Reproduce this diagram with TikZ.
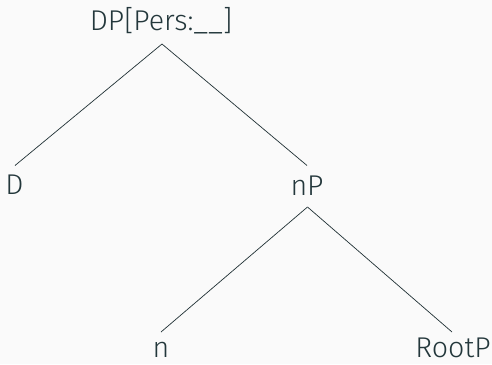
\documentclass[tikz,border=0pt]{standalone}
\usepackage{fontspec}
\setmainfont{Fira Sans}[UprightFont={* Light}]
\usetikzlibrary{calc}
\definecolor{ink}{HTML}{23373B}
\definecolor{paper}{HTML}{FAFAFA}
\begin{document}
\begin{tikzpicture}[x=1pt,y=-1pt,
  label/.style={anchor=base,inner sep=0pt,text=ink,font=\fontsize{28.6}{32}\selectfont},
  branch/.style={draw=ink!90!black,line width=0.7pt}]
\fill[paper] (0,0) rectangle (492,364);
\useasboundingbox (0,0) rectangle (492,364);
% labels of the tree
\node[label] (dp) at (161,30.5) {DP[Pers:\_\_]};
\node[label] (d) at (14.5,194.5) {D};
\node[label] (np) at (307,195) {nP};
\node[label] (n) at (161,357) {n};
\node[label] (rootp) at (453,357) {RootP};
% branches, from under the mother to above each daughter
\draw[branch] ($(dp.base)+(1,13.5)$) -- ($(d.base)+(0.5,-29)$);
\draw[branch] ($(dp.base)+(1,13.5)$) -- ($(np.base)+(0,-29.5)$);
\draw[branch] ($(np.base)+(0.5,12)$) -- ($(n.base)+(0,-25)$);
\draw[branch] ($(np.base)+(0.5,12)$) -- ($(rootp.base)+(-1,-25)$);
\end{tikzpicture}
\end{document}
